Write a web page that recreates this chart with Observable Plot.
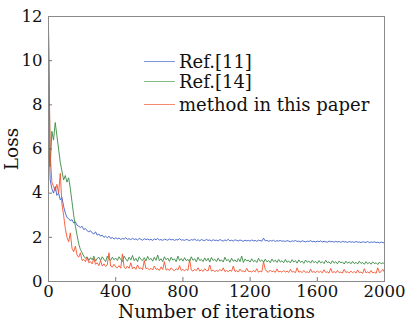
<!DOCTYPE html>
<html>
<head>
<meta charset="utf-8">
<script src="https://cdn.jsdelivr.net/npm/d3@7"></script>
<script src="https://cdn.jsdelivr.net/npm/@observablehq/plot@0.6"></script>
<style>
  html, body { margin: 0; padding: 0; background: #fff; }
  #wrap { position: relative; width: 408px; height: 326px; font-family: "DejaVu Serif", serif; }
  #chart svg, #chart svg text { font-family: "DejaVu Serif", serif !important; }
  #legend { position: absolute; left: 144px; top: 0; font-size: 18px; color: #111; font-family: "DejaVu Serif", serif; }
  .row { position: absolute; left: 0; white-space: nowrap; display: flex; align-items: center; height: 20px; }
  .sw { width: 31px; height: 0; border-top: 1.2px solid; margin-right: 4px; }
</style>
</head>
<body>
<div id="wrap"><div id="chart"></div><div id="legend"></div></div>
<script>
// iterations sampled every 10 steps
const iterations = d3.range(0, 2001, 10);
const seriesNames = ["Ref.[11]", "Ref.[14]", "method in this paper"];
const seriesColors = ["#3d5fc8", "#3a8a44", "#f4532f"];
const legendColors = ["#7f95dc", "#86b98a", "#f48a70"];
const xTicks = [0, 400, 800, 1200, 1600, 2000];
const yTicks = [0, 2, 4, 6, 8, 10, 12];

const ref11 = [
  7.2,4.6,4.2,4.0,4.3,3.9,4.0,3.7,3.8,3.4,3.1,2.9,2.85,2.75,2.8,2.65,2.7,2.55,2.5,2.45,
  2.5,2.35,2.4,2.3,2.25,2.3,2.2,2.15,2.25,2.1,2.15,2.05,2.1,2.0,2.05,1.98,2.05,1.95,2.0,1.92,1.98,
  1.93,1.97,1.90,1.95,1.92,1.98,1.91,1.94,1.89,1.96,1.90,1.93,1.88,1.95,1.91,1.87,1.94,1.90,1.92,1.88,
  1.91,1.86,1.93,1.89,1.95,1.88,1.90,1.86,1.92,1.89,1.87,1.93,1.88,1.91,1.86,1.90,1.88,1.94,1.87,1.89,
  1.86,1.91,1.88,1.85,1.90,1.87,1.92,1.86,1.89,1.84,1.90,1.87,1.85,1.91,1.86,1.88,1.84,1.89,1.86,1.87,
  1.84,1.90,1.86,1.83,1.88,1.85,1.91,1.84,1.87,1.83,1.89,1.86,1.84,1.88,1.85,1.82,1.87,1.84,1.86,1.83,
  1.88,1.84,1.86,1.82,1.87,1.85,1.83,1.96,1.84,1.86,1.82,1.85,1.83,1.87,1.81,1.85,1.83,1.86,1.82,1.84,
  1.81,1.85,1.83,1.80,1.84,1.82,1.86,1.81,1.83,1.80,1.84,1.82,1.79,1.83,1.81,1.85,1.80,1.82,1.79,1.83,
  1.80,1.84,1.79,1.82,1.80,1.78,1.83,1.80,1.81,1.78,1.82,1.79,1.81,1.77,1.82,1.79,1.80,1.77,1.81,1.78,
  1.80,1.77,1.81,1.78,1.79,1.76,1.80,1.78,1.77,1.81,1.76,1.79,1.77,1.80,1.76,1.78,1.75,1.79,1.76,1.75
];
const ref14 = [
  11.6,5.2,6.8,6.4,7.2,6.6,6.0,5.4,5.0,4.6,4.8,4.5,4.7,4.2,3.6,3.0,2.5,2.1,1.7,1.45,
  1.3,1.15,1.05,1.12,0.95,1.08,0.98,1.15,0.92,1.05,1.1,0.95,1.12,1.0,0.9,1.15,1.02,0.95,1.1,0.98,1.06,
  0.95,1.12,1.0,0.9,1.15,1.02,0.92,1.1,0.97,1.18,0.94,1.05,0.9,1.12,1.0,0.95,1.08,0.93,1.14,0.98,
  1.05,0.92,1.1,0.96,1.2,0.94,1.03,0.9,1.12,0.98,1.06,0.91,1.1,0.97,1.02,0.9,1.15,0.95,1.04,0.92,
  1.08,0.94,1.0,0.9,1.12,0.96,1.03,0.89,1.1,0.95,1.0,0.9,1.07,0.93,1.05,0.88,1.09,0.95,1.01,0.9,
  1.06,0.92,0.98,0.88,1.1,0.94,1.0,0.87,1.05,0.92,0.98,0.88,1.04,0.9,1.15,0.86,1.02,0.93,0.97,0.88,
  1.03,0.9,0.96,0.86,1.05,0.91,0.98,0.87,1.01,0.89,0.95,0.85,1.02,0.9,0.97,0.86,1.0,0.88,0.94,0.85,
  1.0,0.87,0.93,0.84,0.99,0.88,0.95,0.83,0.98,0.86,0.92,0.82,0.97,0.87,0.93,0.83,0.96,0.85,0.91,0.82,
  0.95,0.84,0.9,0.81,0.96,0.85,0.89,0.8,0.94,0.83,0.9,0.8,0.93,0.84,0.88,0.79,0.92,0.82,0.89,0.8,
  0.91,0.81,0.87,0.79,0.92,0.82,0.86,0.78,0.9,0.8,0.87,0.78,0.89,0.81,0.85,0.77,0.88,0.8,0.84,0.82
];
const ours = [
  11.3,5.8,4.5,4.3,4.1,4.4,4.0,4.9,3.5,3.0,2.4,2.0,1.8,2.2,1.5,1.35,1.6,1.2,1.1,1.3,
  0.95,1.0,0.9,1.1,0.85,0.9,0.8,1.05,0.78,0.85,0.72,0.95,0.7,0.8,0.68,0.75,1.3,0.7,0.65,0.78,0.66,
  0.62,0.72,0.6,1.25,0.65,0.58,0.7,0.6,0.85,0.57,0.66,0.55,0.75,0.58,0.62,0.54,0.95,0.58,0.6,0.53,
  0.6,0.52,0.7,0.55,0.58,0.5,0.66,0.54,0.9,0.52,0.57,0.5,0.62,0.53,0.49,0.58,0.52,0.72,0.5,0.55,
  0.48,0.56,0.5,1.0,0.52,0.47,0.55,0.49,0.62,0.47,0.53,0.46,0.58,0.5,0.48,0.75,0.47,0.52,0.45,0.5,
  0.46,0.55,0.47,0.62,0.45,0.5,0.44,0.52,0.46,0.7,0.45,0.49,0.43,0.56,0.46,0.48,0.43,0.6,0.45,0.47,
  0.43,0.5,0.44,0.58,0.42,0.47,0.44,0.9,0.55,0.45,0.42,0.52,0.44,0.48,0.41,0.57,0.43,0.46,0.42,0.5,
  0.42,0.47,0.41,0.55,0.43,0.45,0.4,0.62,0.42,0.46,0.4,0.5,0.41,0.44,0.39,0.56,0.42,0.45,0.4,0.48,
  0.41,0.46,0.39,0.53,0.41,0.44,0.38,0.6,0.4,0.45,0.39,0.5,0.4,0.43,0.38,0.55,0.41,0.44,0.39,0.47,
  0.4,0.45,0.38,0.52,0.4,0.43,0.37,0.58,0.39,0.44,0.38,0.5,0.39,0.42,0.37,0.62,0.4,0.45,0.55,0.42
];

const allSeries = [ref11, ref14, ours];
const marks = [];
allSeries.forEach((vals, k) => {
  const data = vals.map((v, i) => ({x: iterations[i], y: v}));
  marks.push(Plot.lineY(data, {x: "x", y: "y", stroke: seriesColors[k], strokeWidth: 0.9}));
});

const chart = Plot.plot({
  width: 408,
  height: 326,
  marginLeft: 48,
  marginRight: 24,
  marginTop: 16,
  marginBottom: 45,
  style: {fontFamily: "'DejaVu Serif', serif", fontSize: "15.5px", color: "#111", background: "#fff"},
  x: {domain: [0, 2000]},
  y: {domain: [0, 12]},
  marks: [
    ...marks,
    Plot.ruleY(yTicks, {x1: 0, x2: 24, stroke: "#555", strokeWidth: 0.8}),
    Plot.ruleX(xTicks, {y1: 0, y2: 0.18, stroke: "#555", strokeWidth: 0.8}),
    Plot.frame({stroke: "#8a8a8a", strokeWidth: 1}),
    Plot.axisX({ticks: xTicks, tickSize: 0, tickPadding: 4, tickFormat: d => String(d),
      label: "Number of iterations", labelAnchor: "center", labelArrow: "none", labelOffset: 36,
      fontSize: 16.5}),
    Plot.axisY({ticks: yTicks, tickSize: 0, tickPadding: 6, tickFormat: d => String(d),
      label: "Loss", labelAnchor: "center", labelArrow: "none", labelOffset: 44, fontSize: 16.5})
  ]
});
chart.querySelectorAll("[aria-label='x-axis label'] text, [aria-label='y-axis label'] text").forEach(t => {
  t.style.fontSize = "18.5px";
});
document.getElementById("chart").appendChild(chart);

const legend = document.getElementById("legend");
const rowTops = [51, 71, 94];
seriesNames.forEach((name, k) => {
  const row = document.createElement("div");
  row.className = "row";
  row.style.top = rowTops[k] + "px";
  const sw = document.createElement("span");
  sw.className = "sw";
  sw.style.borderTopColor = legendColors[k];
  const tx = document.createElement("span");
  tx.textContent = name;
  row.appendChild(sw);
  row.appendChild(tx);
  legend.appendChild(row);
});
</script>
</body>
</html>
